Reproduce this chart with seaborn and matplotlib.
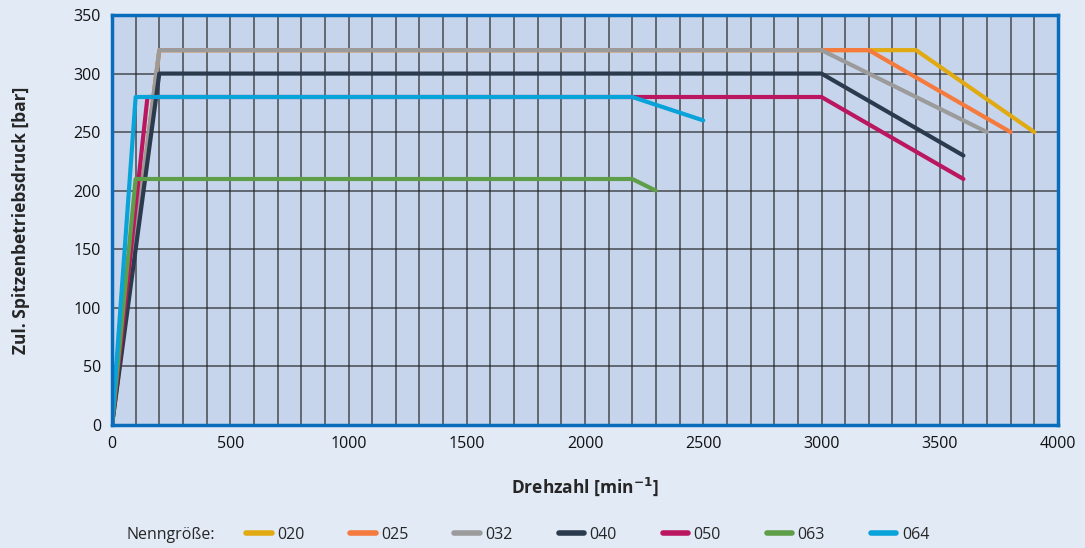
import pandas as pd
import numpy as np
import seaborn as sns
import matplotlib.pyplot as plt
from matplotlib.ticker import MultipleLocator

# Data: corner points of each limit curve
sizes = ['020', '025', '032', '040', '050', '063', '064']
speed = {
    '020': [0, 200, 3400, 3900],
    '025': [0, 200, 3200, 3800],
    '032': [0, 200, 3000, 3700],
    '040': [0, 200, 3000, 3600],
    '050': [0, 150, 3000, 3600],
    '063': [0, 100, 2200, 2300],
    '064': [0, 100, 2200, 2500],
}
pressure = {
    '020': [0, 320, 320, 250],
    '025': [0, 320, 320, 250],
    '032': [0, 320, 320, 250],
    '040': [0, 300, 300, 230],
    '050': [0, 280, 280, 210],
    '063': [0, 210, 210, 200],
    '064': [0, 280, 280, 260],
}
colors = ['#e1aa12', '#f47a3e', '#9b9b9b', '#2b3a4c', '#bb1760', '#5f9e48', '#0aa3d9']

rows = []
for s in sizes:
    for i, (x, y) in enumerate(zip(speed[s], pressure[s])):
        rows.append({'size': s, 'order': i, 'rpm': x, 'bar': y})
df = pd.DataFrame(rows)

sns.set_theme(style='white')
plt.rcParams['font.family'] = ['Open Sans', 'DejaVu Sans']

fig = plt.figure(figsize=(10.85, 5.48), dpi=100, facecolor='#e2eaf6')
ax = fig.add_axes([112 / 1085, 1 - 425 / 548, (1058 - 112) / 1085, (425 - 15) / 548])
ax.set_facecolor('#c6d5ec')

sns.lineplot(data=df, x='rpm', y='bar', hue='size', hue_order=sizes,
             palette=colors, sort=False, estimator=None, units='size',
             linewidth=3, ax=ax, legend=True, zorder=3)

ax.set_xlim(0, 4000)
ax.set_ylim(0, 350)
ax.xaxis.set_major_locator(MultipleLocator(500))
ax.xaxis.set_minor_locator(MultipleLocator(100))
ax.yaxis.set_major_locator(MultipleLocator(50))
ax.grid(which='both', axis='x', color='#1c1c1c', linewidth=1.1, alpha=0.75)
ax.grid(which='major', axis='y', color='#1c1c1c', linewidth=1.1, alpha=0.75)
ax.tick_params(which='both', length=0, labelsize=11.5, pad=8, colors='#111111')
for sp in ax.spines.values():
    sp.set_color('#0a6dbb')
    sp.set_linewidth(2.5)
    sp.set_zorder(5)

ax.set_xlabel('Drehzahl [min$^{\\mathbf{-1}}$]', fontsize=12.5, fontweight='bold', labelpad=17)
ax.set_ylabel('Zul. Spitzenbetriebsdruck [bar]', fontsize=12.5, fontweight='bold', labelpad=31)

handles, labels = ax.get_legend_handles_labels()
ax.get_legend().remove()
for h in handles:
    h.set_linewidth(4)
leg_y = 1 - 535 / 548
fig.legend(handles, labels, loc='center left', bbox_to_anchor=(232 / 1085, leg_y),
           ncol=7, frameon=False, fontsize=11.5, handlelength=1.6, handletextpad=0.35,
           columnspacing=2.85)
fig.text(126 / 1085, leg_y, 'Nenngröße:', fontsize=11.5, va='center', ha='left')

fig.savefig('out.png', dpi=100, facecolor=fig.get_facecolor())
